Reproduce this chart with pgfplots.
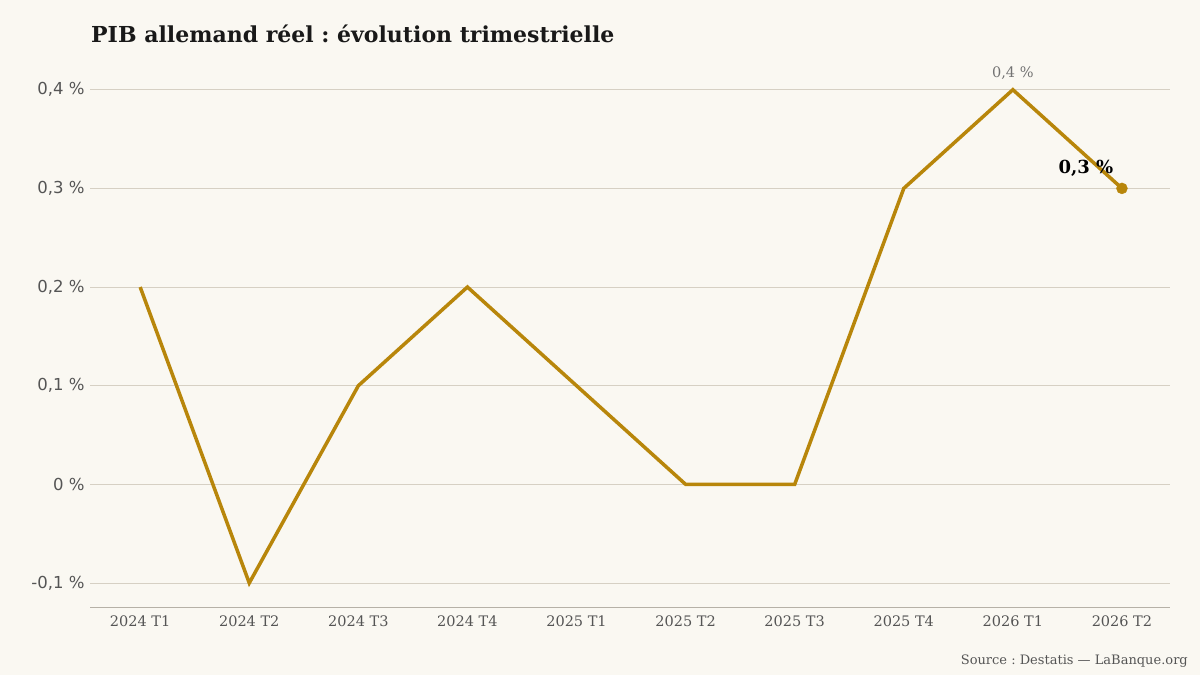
\documentclass[border=0pt]{standalone}
\usepackage{pgfplots}
\pgfplotsset{compat=1.18}
\usepackage{fontspec}
\setmainfont{DejaVu Serif}
\newfontfamily\sansf{DejaVu Sans}
\definecolor{bg}{HTML}{FAF8F2}
\definecolor{gold}{HTML}{B8860B}
\definecolor{gridc}{HTML}{D6D0C4}
\definecolor{tickc}{HTML}{555555}
\pgfplotstableread{
x y
0 0.2
1 -0.1
2 0.1
3 0.2
4 0.1
5 0.0
6 0.0
7 0.3
8 0.4
9 0.3
}\gdp
\begin{document}
\frenchspacing
\begin{tikzpicture}
\fill[bg] (0pt,0pt) rectangle (1200pt,675pt);
\node[anchor=base west,font=\fontsize{22}{22}\selectfont\bfseries,text=black!90,inner sep=0] at (91pt,632pt) {PIB allemand réel : évolution trimestrielle};
\node[anchor=base east,font=\fontsize{13}{13}\selectfont,text=tickc,inner sep=0] at (1188pt,10pt) {Source : Destatis — LaBanque.org};
\begin{axis}[
  at={(90pt,68pt)}, anchor=south west,
  scale only axis, width=1080pt, height=537pt,
  xmin=-0.46, xmax=9.44,
  ymin=-0.1243, ymax=0.42,
  axis lines*=left,
  y axis line style={draw=none},
  x axis line style={draw=gridc!85!black, line width=1pt},
  major tick length=0pt,
  xtick={0,...,9},
  xticklabels={2024 T1,2024 T2,2024 T3,2024 T4,2025 T1,2025 T2,2025 T3,2025 T4,2026 T1,2026 T2},
  xticklabel style={font=\fontsize{14.5}{14.5}\selectfont, text=tickc, yshift=-5pt},
  ytick={-0.1,0,0.1,0.2,0.3,0.4},
  yticklabels={{-0,1 \%},{0 \%},{0,1 \%},{0,2 \%},{0,3 \%},{0,4 \%}},
  yticklabel style={font=\sansf\fontsize{16.5}{16.5}\selectfont, text=tickc, xshift=-2pt},
  ymajorgrids, grid style={gridc, line width=1pt},
  clip=false,
]
\addplot[gold, line width=3.5pt, line join=miter] table[x=x,y=y]{\gdp};
\addplot[gold, only marks, mark=*, mark size=5.5pt] coordinates {(9,0.3)};
\node[anchor=base, font=\fontsize{14.5}{14.5}\selectfont, text=black!55] at (axis cs:8,0.4) [yshift=12pt] {0,4 \%};
\node[anchor=base, font=\fontsize{18}{18}\selectfont\bfseries, text=black] at (axis cs:8.67,0.3) [yshift=15pt] {0,3 \%};
\end{axis}
\pgfresetboundingbox
\path[use as bounding box] (0pt,0pt) rectangle (1200pt,675pt);
\end{tikzpicture}
\end{document}
